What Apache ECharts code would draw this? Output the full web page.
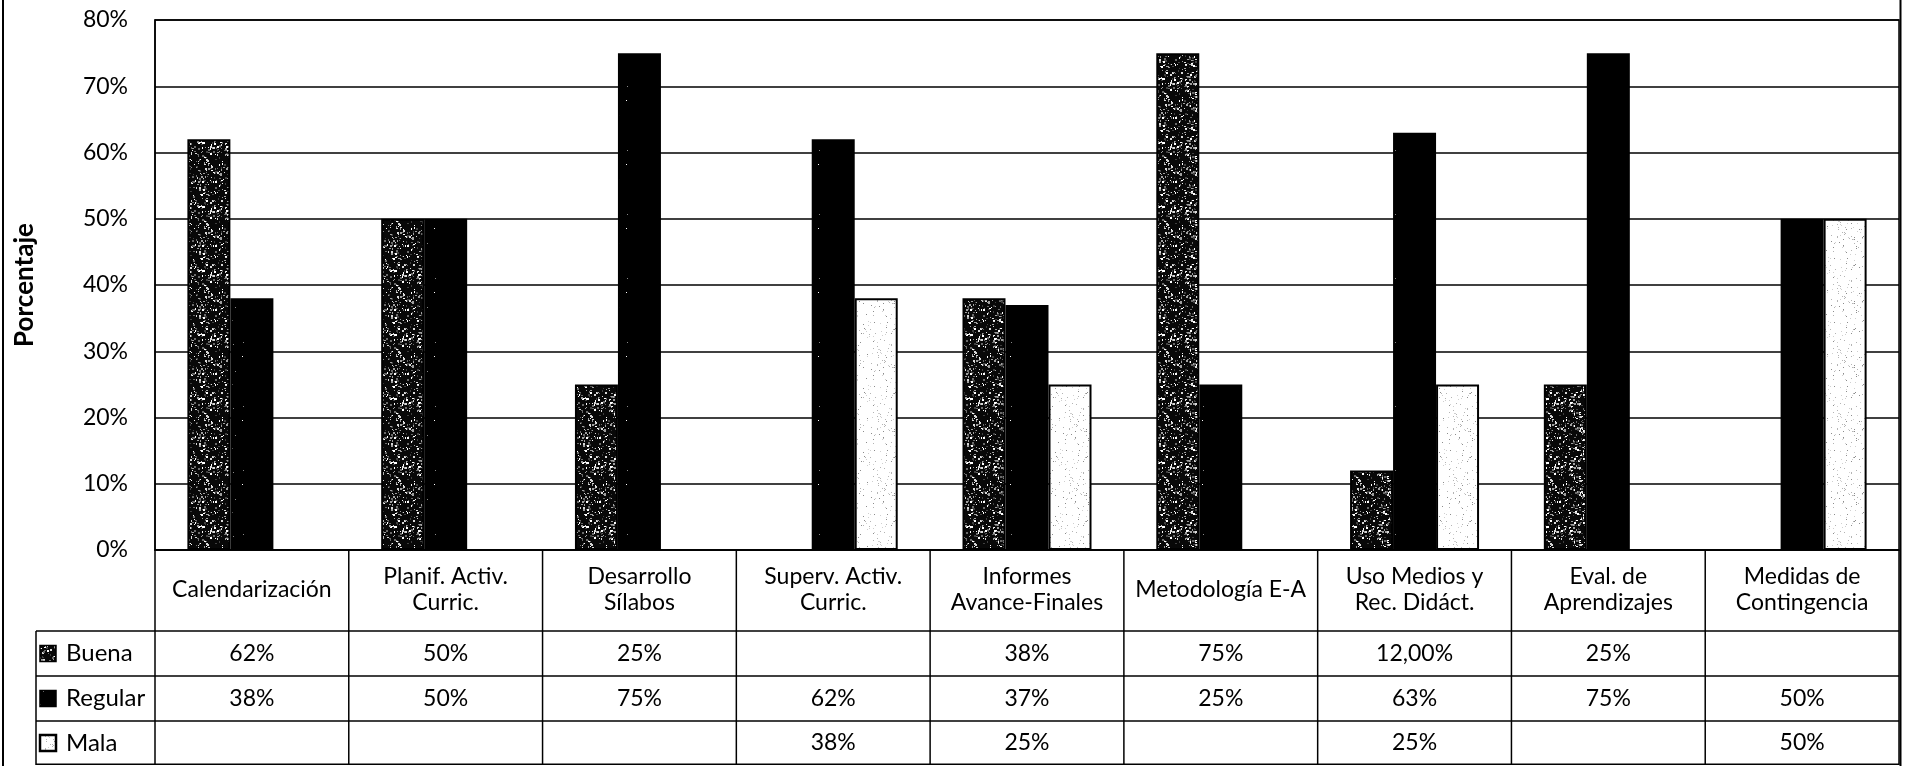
<!DOCTYPE html>
<html>
<head>
<meta charset="utf-8">
<script src="https://cdn.jsdelivr.net/npm/echarts@6/dist/echarts.min.js"></script>
<style>
  html, body { margin: 0; padding: 0; background: #fff; }
  #chart { width: 1911px; height: 766px; }
</style>
</head>
<body>
<div id="chart"></div>
<script>
// Categories and values (percent)
const categories = [
  'Calendarización',
  'Planif. Activ.\nCurric.',
  'Desarrollo\nSílabos',
  'Superv. Activ.\nCurric.',
  'Informes\nAvance-Finales',
  'Metodología E-A',
  'Uso Medios y\nRec. Didáct.',
  'Eval. de\nAprendizajes',
  'Medidas de\nContingencia'
];
const seriesNames = ['Buena', 'Regular', 'Mala'];
const buena   = [62, 50, 25, null, 38, 75, 12, 25, null];
const regular = [38, 50, 75, 62, 37, 25, 63, 75, 50];
const mala    = [null, null, null, 38, 25, null, 25, null, 50];
// decimals shown in the data table for each cell
const buenaDecimals   = [0, 0, 0, 0, 0, 0, 2, 0, 0];
const regularDecimals = [0, 0, 0, 0, 0, 0, 0, 0, 0];
const malaDecimals    = [0, 0, 0, 0, 0, 0, 0, 0, 0];
const yMin = 0, yMax = 80, yStep = 10;

const FONT = 'Lato, "Open Sans", sans-serif';

// Deterministic speckle textures for the bar fills
function speckle(bg, specks, density, seed, maxSize) {
  const size = 64;
  const c = document.createElement('canvas');
  c.width = size; c.height = size;
  const ctx = c.getContext('2d');
  ctx.fillStyle = bg;
  ctx.fillRect(0, 0, size, size);
  let s = seed;
  const rnd = () => { s = (s * 1103515245 + 12345) & 0x7fffffff; return s / 0x7fffffff; };
  const n = Math.round(size * size * density);
  for (let i = 0; i < n; i++) {
    const x = Math.floor(rnd() * size), y = Math.floor(rnd() * size);
    ctx.fillStyle = specks[Math.floor(rnd() * specks.length)];
    const w = 1 + Math.floor(rnd() * maxSize), h = 1 + Math.floor(rnd() * maxSize);
    ctx.fillRect(x, y, w, h);
  }
  return { image: c, repeat: 'repeat' };
}
const fills = [
  speckle('#080808', ['#ffffff', '#d8d8d8', '#a0a0a0', '#6a6a6a', '#404040'], 0.11, 7, 2),
  speckle('#000000', ['#ffffff', '#888888'], 0.0015, 11, 1),
  speckle('#ffffff', ['#b4b4b4', '#d0d0d0', '#8c8c8c'], 0.04, 23, 1)
];
const dataSets = [buena, regular, mala];
const decimalSets = [buenaDecimals, regularDecimals, malaDecimals];

const chart = echarts.init(document.getElementById('chart'), null, { renderer: 'canvas' });

const option = {
  backgroundColor: '#fff',
  animation: false,
  grid: { left: 155, right: 12, top: 20, bottom: 216, show: true, borderColor: '#000', borderWidth: 1.5 },
  xAxis: {
    type: 'category',
    data: categories,
    axisLine: { show: true, lineStyle: { color: '#000', width: 1.5 } },
    axisTick: { show: false },
    axisLabel: {
      interval: 0, margin: 40, verticalAlign: 'middle',
      color: '#000', fontFamily: FONT, fontSize: 23, lineHeight: 26, align: 'center'
    }
  },
  yAxis: {
    type: 'value', min: yMin, max: yMax, interval: yStep,
    name: 'Porcentaje', nameLocation: 'middle', nameGap: 117,
    nameTextStyle: { color: '#000', fontFamily: FONT, fontSize: 26, fontWeight: 'bold' },
    axisLine: { show: true, lineStyle: { color: '#000', width: 1.5 } },
    axisTick: { show: false },
    axisLabel: { formatter: '{value}%', margin: 27, color: '#000', fontFamily: FONT, fontSize: 23 },
    splitLine: { show: true, lineStyle: { color: '#000', width: 1.5 } }
  },
  series: seriesNames.map((name, k) => ({
    name, type: 'bar',
    data: dataSets[k],
    barWidth: 43, barGap: '0%',
    itemStyle: { color: fills[k], borderColor: '#000', borderWidth: 2 }
  }))
};
chart.setOption(option);

// Data table under the plot, laid out from the category axis positions
function buildTable() {
  const n = categories.length;
  const c0 = chart.convertToPixel({ xAxisIndex: 0 }, 0);
  const c1 = chart.convertToPixel({ xAxisIndex: 0 }, n - 1);
  const w = (c1 - c0) / (n - 1);
  const left = c0 - w / 2, right = c1 + w / 2;
  const yZero = chart.convertToPixel({ yAxisIndex: 0 }, yMin);
  const headerBottom = yZero + 81;
  const rowH = [45, 45, 44];
  const legendLeft = 36;
  const els = [];
  const line = (x1, y1, x2, y2, lw) => els.push({
    type: 'line', silent: true,
    shape: { x1, y1, x2, y2 }, style: { stroke: '#000', lineWidth: lw || 1.5 }
  });
  let y = headerBottom;
  const rowTops = [];
  for (let r = 0; r < 3; r++) { rowTops.push(y); y += rowH[r]; }
  const bottom = y;
  for (let i = 0; i <= n; i++) line(left + i * w, yZero, left + i * w, bottom);
  line(legendLeft, headerBottom, legendLeft, bottom);
  rowTops.forEach(t => line(legendLeft, t, right, t));
  line(legendLeft, bottom - 0.75, right, bottom - 0.75);
  // outer frame
  line(3, 0, 3, 766, 2);
  line(right + 1.5, 0, right + 1.5, 766, 2);

  for (let r = 0; r < 3; r++) {
    const cy = rowTops[r] + rowH[r] / 2;
    els.push({
      type: 'rect', silent: true,
      shape: { x: 40, y: cy - 8, width: 16, height: 16 },
      style: { fill: fills[r], stroke: '#000', lineWidth: r === 2 ? 2.5 : 1.5 }
    });
    els.push({
      type: 'text', silent: true, x: 66, y: cy,
      style: { text: seriesNames[r], fill: '#000', font: '24px ' + FONT, textAlign: 'left', textVerticalAlign: 'middle' }
    });
    dataSets[r].forEach((v, i) => {
      if (v == null) return;
      const txt = v.toFixed(decimalSets[r][i]).replace('.', ',') + '%';
      els.push({
        type: 'text', silent: true,
        x: chart.convertToPixel({ xAxisIndex: 0 }, i), y: cy,
        style: { text: txt, fill: '#000', font: '23px ' + FONT, textAlign: 'center', textVerticalAlign: 'middle' }
      });
    });
  }
  chart.setOption({ graphic: { elements: els } });
}
buildTable();
</script>
</body>
</html>
